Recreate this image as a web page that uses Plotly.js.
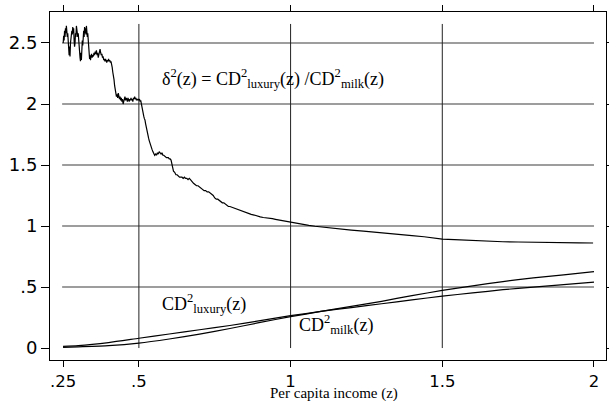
<!DOCTYPE html>
<html>
<head>
<meta charset="utf-8">
<script src="https://cdn.plot.ly/plotly-3.0.1.min.js"></script>
<style>html,body{margin:0;padding:0;background:#fff}#chart{width:609px;height:401px}</style>
</head>
<body>
<div id="chart"></div>
<script>
// ratio delta^2(z) = CD2_luxury / CD2_milk
var ratioX = [0.2505,0.252,0.2535,0.255,0.2565,0.258,0.2595,0.261,0.2625,0.264,0.2655,0.267,0.2685,0.270,0.2715,0.273,0.2745,0.276,0.2775,0.279,0.2805,0.282,0.2835,0.285,0.2865,0.288,0.2895,0.291,0.2925,0.294,0.2955,0.297,0.2985,0.300,0.3015,0.303,0.3045,0.306,0.3075,0.309,0.3105,0.312,0.3135,0.315,0.3165,0.318,0.3195,0.321,0.3225,0.324,0.3255,0.327,0.3285,0.330,0.3315,0.333,0.3345,0.336,0.3375,0.339,0.3405,0.342,0.344,0.346,0.348,0.350,0.352,0.354,0.356,0.358,0.360,0.362,0.364,0.366,0.368,0.370,0.372,0.374,0.376,0.378,0.380,0.382,0.384,0.386,0.388,0.390,0.392,0.394,0.396,0.398,0.400,0.402,0.404,0.406,0.408,0.410,0.412,0.414,0.416,0.418,0.420,0.422,0.424,0.426,0.428,0.430,0.432,0.434,0.436,0.438,0.440,0.442,0.444,0.446,0.448,0.450,0.452,0.454,0.456,0.458,0.460,0.462,0.464,0.466,0.468,0.470,0.472,0.474,0.476,0.478,0.480,0.482,0.484,0.486,0.488,0.490,0.492,0.494,0.496,0.498,0.500,0.502,0.504,0.506,0.508,0.510,0.512,0.514,0.516,0.518,0.520,0.522,0.524,0.526,0.528,0.530,0.532,0.534,0.536,0.538,0.540,0.543,0.546,0.549,0.552,0.555,0.558,0.561,0.564,0.567,0.570,0.573,0.576,0.579,0.582,0.585,0.588,0.591,0.594,0.597,0.600,0.603,0.606,0.609,0.611,0.614,0.618,0.622,0.626,0.630,0.634,0.638,0.642,0.646,0.650,0.654,0.658,0.662,0.666,0.670,0.675,0.680,0.685,0.690,0.695,0.700,0.705,0.710,0.715,0.720,0.725,0.730,0.735,0.740,0.745,0.750,0.755,0.760,0.765,0.770,0.775,0.780,0.785,0.790,0.795,0.800,0.81,0.82,0.83,0.84,0.85,0.86,0.87,0.88,0.89,0.90,0.91,0.92,0.93,0.94,0.95,0.96,0.97,0.98,0.99,1.00,1.02,1.04,1.06,1.08,1.10,1.13,1.16,1.20,1.24,1.28,1.32,1.36,1.40,1.44,1.48,1.50,1.54,1.58,1.62,1.66,1.70,1.75,1.80,1.85,1.90,1.95,1.997];
var ratioY = [2.50,2.56,2.52,2.60,2.55,2.62,2.58,2.64,2.60,2.55,2.58,2.50,2.44,2.40,2.47,2.39,2.50,2.55,2.52,2.60,2.57,2.63,2.58,2.62,2.52,2.47,2.50,2.58,2.55,2.64,2.60,2.62,2.55,2.58,2.50,2.45,2.42,2.38,2.35,2.42,2.36,2.45,2.52,2.48,2.56,2.60,2.55,2.63,2.58,2.62,2.57,2.64,2.60,2.55,2.58,2.50,2.44,2.40,2.37,2.40,2.36,2.39,2.41,2.38,2.40,2.39,2.42,2.40,2.43,2.41,2.44,2.40,2.42,2.38,2.40,2.43,2.45,2.42,2.40,2.41,2.38,2.39,2.36,2.37,2.35,2.37,2.36,2.34,2.36,2.35,2.37,2.35,2.36,2.34,2.35,2.33,2.30,2.26,2.24,2.20,2.15,2.11,2.08,2.06,2.08,2.05,2.09,2.06,2.04,2.06,2.03,2.05,2.02,2.04,2.00,2.02,2.04,2.06,2.03,2.05,2.04,2.02,2.05,2.03,2.02,2.04,2.03,2.05,2.03,2.04,2.02,2.05,2.04,2.06,2.04,2.05,2.03,2.04,2.03,2.04,2.03,2.04,2.02,2.03,2.00,1.96,1.94,1.92,1.90,1.88,1.87,1.84,1.81,1.79,1.76,1.74,1.72,1.70,1.68,1.66,1.65,1.63,1.61,1.60,1.58,1.59,1.58,1.60,1.59,1.61,1.60,1.59,1.60,1.58,1.58,1.57,1.57,1.56,1.56,1.56,1.55,1.55,1.54,1.50,1.46,1.45,1.44,1.42,1.42,1.41,1.40,1.40,1.40,1.39,1.40,1.39,1.39,1.38,1.39,1.38,1.36,1.35,1.34,1.33,1.33,1.32,1.31,1.30,1.29,1.29,1.28,1.28,1.27,1.26,1.25,1.23,1.22,1.22,1.21,1.20,1.19,1.19,1.18,1.17,1.16,1.16,1.15,1.14,1.13,1.12,1.11,1.10,1.095,1.09,1.08,1.075,1.07,1.068,1.063,1.06,1.055,1.05,1.045,1.04,1.036,1.033,1.025,1.012,1.005,0.998,0.992,0.985,0.975,0.967,0.958,0.950,0.942,0.932,0.922,0.912,0.901,0.893,0.889,0.883,0.878,0.874,0.871,0.869,0.866,0.864,0.863,0.862,0.861,0.858];

// CD^2 curves
var cdX = [0.25,0.3,0.4,0.5,0.6,0.7,0.8,0.9,1.0,1.1,1.2,1.3,1.4,1.5,1.6,1.7,1.8,1.9,2.0];
var luxuryY = [0.014,0.02,0.045,0.08,0.115,0.15,0.185,0.225,0.265,0.30,0.332,0.363,0.395,0.425,0.452,0.478,0.50,0.52,0.54];
var milkY = [0.006,0.01,0.019,0.04,0.074,0.114,0.16,0.21,0.257,0.30,0.342,0.383,0.43,0.472,0.51,0.545,0.575,0.60,0.627];

var xTickVals = [0.25,0.5,1,1.5,2];
var xTickText = ['.25','.5','1','1.5','2'];
var yTickVals = [0,0.5,1,1.5,2,2.5];
var yTickText = ['0','.5','1','1.5','2','2.5'];
var gridY = [0.5,1,1.5,2,2.5];
var gridX = [0.5,1,1.5];

var shapes = [];
gridY.forEach(function(v){
  shapes.push({type:'line',xref:'x',yref:'y',x0:xTickVals[0]-0.003,x1:xTickVals[xTickVals.length-1],y0:v,y1:v,line:{color:'#7c7c7c',width:1.6},layer:'below'});
});
gridX.forEach(function(v){
  shapes.push({type:'line',xref:'x',yref:'y',x0:v,x1:v,y0:0,y1:2.656,line:{color:'#222',width:1},layer:'below'});
});

var traces = [
  {x:ratioX,y:ratioY,type:'scatter',mode:'lines',line:{color:'#000',width:1.2},hoverinfo:'skip'},
  {x:cdX,y:luxuryY,type:'scatter',mode:'lines',line:{color:'#000',width:1.2,shape:'spline',smoothing:0.6},hoverinfo:'skip'},
  {x:cdX,y:milkY,type:'scatter',mode:'lines',line:{color:'#000',width:1.2,shape:'spline',smoothing:0.6},hoverinfo:'skip'}
];

var serif = 'Liberation Serif, Times New Roman, serif';
var sans = 'DejaVu Sans, Arial, sans-serif';

var layout = {
  width:609,height:401,
  margin:{l:50,r:3,t:12,b:41,pad:0},
  paper_bgcolor:'#fff',plot_bgcolor:'#fff',
  showlegend:false,
  xaxis:{range:[0.207,2.0396],tickvals:xTickVals,ticktext:xTickText,ticks:'outside',ticklen:6,tickcolor:'#000',tickwidth:1,
    showgrid:false,zeroline:false,showline:true,linecolor:'#000',linewidth:1,mirror:'ticks',
    tickfont:{family:sans,size:16.5,color:'#000'}},
  yaxis:{range:[-0.098,2.754],tickvals:yTickVals,ticktext:yTickText,ticks:'outside',ticklen:8,tickcolor:'#000',tickwidth:1,
    showgrid:false,zeroline:false,showline:true,linecolor:'#000',linewidth:1,mirror:'ticks',
    tickfont:{family:sans,size:18,color:'#000'}},
  shapes:shapes,
  annotations:[
    {x:0.51,y:-0.0965,xref:'paper',yref:'paper',xanchor:'center',yanchor:'middle',showarrow:false,borderpad:0,
     text:'Per capita income (z)',font:{family:serif,size:15,color:'#000'}},
    {x:0.57,y:2.213,xref:'x',yref:'y',xanchor:'left',yanchor:'middle',showarrow:false,
     text:'δ<sup>2</sup>(z) = CD<sup>2</sup><sub>luxury</sub>(z) /CD<sup>2</sup><sub>milk</sub>(z)',font:{family:serif,size:18,color:'#000'}},
    {x:0.57,y:0.369,xref:'x',yref:'y',xanchor:'left',yanchor:'middle',showarrow:false,
     text:'CD<sup>2</sup><sub>luxury</sub>(z)',font:{family:serif,size:18,color:'#000'}},
    {x:1.021,y:0.189,xref:'x',yref:'y',xanchor:'left',yanchor:'middle',showarrow:false,
     text:'CD<sup>2</sup><sub>milk</sub>(z)',font:{family:serif,size:18,color:'#000'}}
  ]
};
Plotly.newPlot('chart',traces,layout,{displayModeBar:false,staticPlot:true});
</script>
</body>
</html>
